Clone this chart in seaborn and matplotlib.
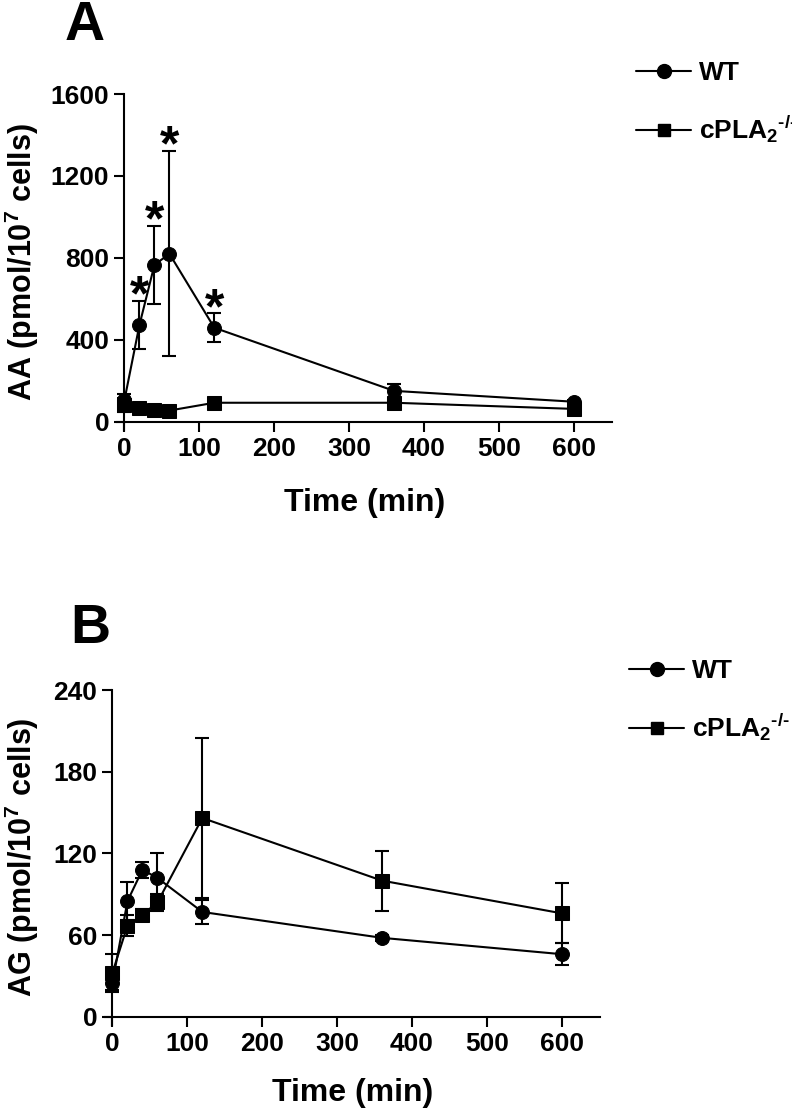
import numpy as np
import pandas as pd
import matplotlib
matplotlib.use("Agg")
import matplotlib.pyplot as plt
import seaborn as sns

# time points (min)
time_min = [0, 20, 40, 60, 120, 360, 600]

# panel A: AA (pmol/10^7 cells)
aa_wt = [107, 473, 766, 820, 459, 151, 98]
aa_wt_err = [30, 118, 190, 500, 70, 35, 10]
aa_ko = [83, 68, 59, 55, 93, 93, 63]
aa_ko_err = [35, 10, 8, 8, 10, 15, 10]
aa_star_times = [20, 40, 60, 120]

# panel B: AG (pmol/10^7 cells)
ag_wt = [25, 85, 108, 102, 77, 58, 46]
ag_wt_err = [5, 14, 6, 18, 9, 2, 8]
ag_ko = [32.5, 67, 75, 84, 146, 100, 76]
ag_ko_err = [14, 8, 4, 6, 58.5, 22, 22]

sns.set_theme(style="ticks")
plt.rcParams['font.family'] = ['Liberation Sans', 'DejaVu Sans']
plt.rcParams['font.weight'] = 'bold'
plt.rcParams['text.color'] = 'black'
plt.rcParams['axes.labelcolor'] = 'black'
plt.rcParams['mathtext.fontset'] = 'custom'
plt.rcParams['mathtext.rm'] = 'Liberation Sans:bold'
plt.rcParams['mathtext.bf'] = 'Liberation Sans:bold'
plt.rcParams['mathtext.it'] = 'Liberation Sans:bold'

KO_LABEL = 'cPLA$_{2}$$^{\u2010/\u2010}$'
W, H = 792, 1112


def make_df(wt, ko):
    return pd.DataFrame({
        'time': time_min * 2,
        'value': wt + ko,
        'genotype': ['WT'] * len(wt) + [KO_LABEL] * len(ko),
    })


def draw_panel(ax, wt, wt_err, ko, ko_err, ymax, yticks, ylabel, ybelow, ylab_x, xlab_y):
    df = make_df(wt, ko)
    sns.lineplot(data=df, x='time', y='value', style='genotype',
                 markers={'WT': 'o', KO_LABEL: 's'}, dashes=False,
                 color='black', markersize=10, linewidth=1.5,
                 markeredgecolor='black', ax=ax, clip_on=False, zorder=3)
    for vals, errs in [(wt, wt_err), (ko, ko_err)]:
        ax.errorbar(time_min, vals, yerr=errs, fmt='none', ecolor='black',
                    elinewidth=1.5, capsize=5, capthick=1.5, clip_on=False, zorder=2)
    ax.set_xlim(-10, 651)
    ax.set_ylim(-ybelow, ymax)
    ax.spines['left'].set_position(('data', 0))
    ax.spines['bottom'].set_position(('data', 0))
    ax.spines['top'].set_visible(False)
    ax.spines['right'].set_visible(False)
    for s in ['left', 'bottom']:
        ax.spines[s].set_linewidth(1.5)
        ax.spines[s].set_color('black')
    ax.set_xticks([0, 100, 200, 300, 400, 500, 600])
    ax.set_yticks(yticks)
    ax.tick_params(axis='both', length=7, width=1.5, labelsize=19, colors='black', pad=4)
    for lab in ax.get_xticklabels() + ax.get_yticklabels():
        lab.set_fontweight('bold')
    ax.set_xlabel('Time (min)', fontsize=23, fontweight='bold')
    ax.set_ylabel(ylabel, fontsize=22, fontweight='bold')
    ax.yaxis.set_label_coords(ylab_x, 0.5)
    ax.xaxis.set_label_coords(0.5, xlab_y)
    ax.legend_.remove()


fig = plt.figure(figsize=(W / 100, H / 100), dpi=100)

# axes placed in pixel coords
axA = fig.add_axes([117 / W, 1 - 430 / H, (612 - 117) / W, (430 - 94) / H])
axB = fig.add_axes([105 / W, 1 - 1025 / H, (600 - 105) / W, (1025 - 690) / H])

draw_panel(axA, aa_wt, aa_wt_err, aa_ko, aa_ko_err, 1600,
           [0, 400, 800, 1200, 1600], r'AA (pmol/10$^{7}$ cells)', 40,
           (41 - 117) / 495, -0.172)
draw_panel(axB, ag_wt, ag_wt_err, ag_ko, ag_ko_err, 240,
           [0, 60, 120, 180, 240], r'AG (pmol/10$^{7}$ cells)', 6,
           (41 - 105) / 495, -0.157)

# significance stars above WT error bars
for t in aa_star_times:
    i = time_min.index(t)
    axA.annotate('*', xy=(t, aa_wt[i] + aa_wt_err[i]), xytext=(0, -14),
                 textcoords='offset points', ha='center', va='bottom',
                 fontsize=36, fontweight='bold')

# panel letters
fig.text(85 / W, 1 - 40 / H, 'A', fontsize=40, fontweight='bold', ha='center', va='baseline')
fig.text(90 / W, 1 - 643 / H, 'B', fontsize=40, fontweight='bold', ha='center', va='baseline')

# legends
for x0, y0 in [(636, 61), (629, 659)]:
    h = [plt.Line2D([], [], color='black', lw=1.5, marker=m, markersize=ms)
         for m, ms in [('o', 10), ('s', 9)]]
    fig.legend(h, ['WT', KO_LABEL], loc='upper left',
               bbox_to_anchor=(x0 / W, 1 - y0 / H), frameon=False,
               borderpad=0, borderaxespad=0,
               handlelength=2.1, handletextpad=0.3,
               labelspacing=1.1, prop={'weight': 'bold', 'size': 19})

fig.savefig('out.png', dpi=100)
